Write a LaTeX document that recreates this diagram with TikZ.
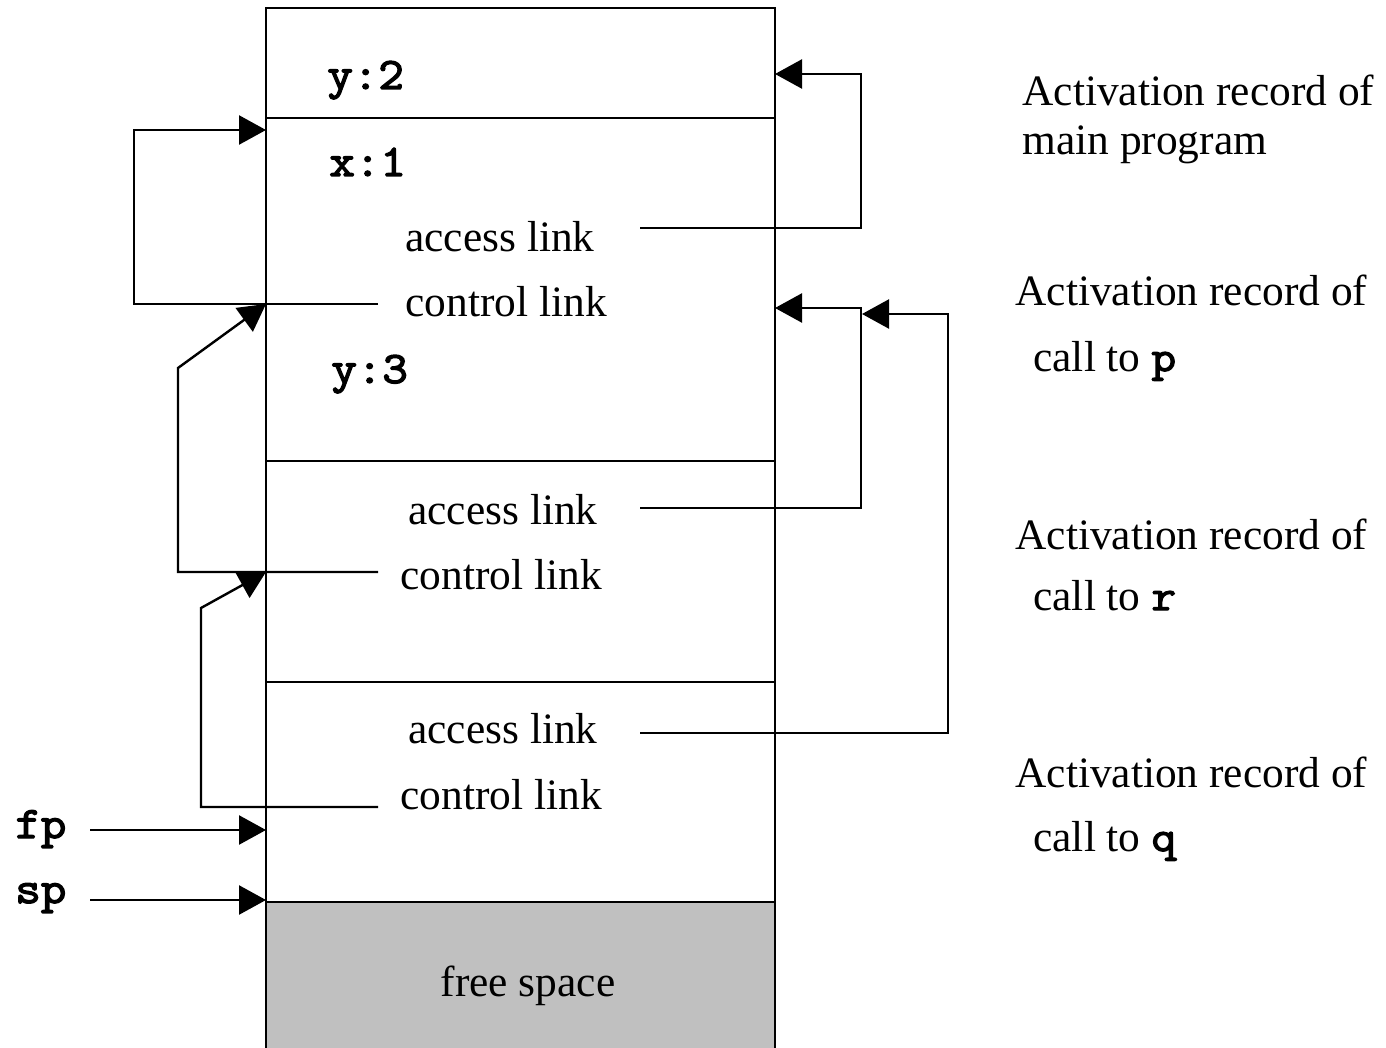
\documentclass[tikz,border=0pt]{standalone}
\usepackage{fontspec}
\setmainfont{Liberation Serif}
\newfontfamily\codefont[FakeBold=3,FakeStretch=1.1]{Latin Modern Mono}
\usetikzlibrary{arrows.meta}
\definecolor{freegray}{HTML}{C0C0C0}

\begin{document}
\begin{tikzpicture}[x=0.5pt,y=-0.5pt,
  wire/.style={line width=1.2pt},
  link/.style={wire,-{Triangle[length=13.5pt,width=14.5pt]}},
  txt/.style={font=\fontsize{21.7}{24}\selectfont, inner sep=0pt, anchor=base west},
  var/.style={font=\fontsize{22.5}{24}\selectfont\codefont, inner sep=0pt, anchor=base west},
]
\useasboundingbox (0,0) rectangle (1386,1048);
\clip (0,0) rectangle (1386,1048);

% the stack column
\fill[freegray] (266,902) rectangle (775,1060);
\draw[wire] (266,1060) -- (266,8) -- (775,8) -- (775,1060);
\foreach \yy in {118,461,682,902} \draw[wire] (266,\yy) -- (775,\yy);

% contents of the records
\node[var] (y2) at (327,89) {y:2};
\node[var] (x1) at (329,176) {x:1};
\node[var] (y3) at (331,383) {y:3};
\node[txt] (acc1) at (405,251) {access link};
\node[txt] (ctl1) at (405,316) {control link};
\node[txt] (acc2) at (408,524) {access link};
\node[txt] (ctl2) at (400,589) {control link};
\node[txt] (acc3) at (408,743) {access link};
\node[txt] (ctl3) at (400,809) {control link};
\node[txt,anchor=base] (free) at (528,996) {free space};

% stack pointers
\node[var] (fp) at (15,838) {fp};
\node[var] (sp) at (15,903) {sp};

% record captions
\node[txt] (capm1) at (1022,106) {Activation record of};
\node[txt] (capm2) at (1022,155) {main program};
\node[txt] (capp1) at (1015,306) {Activation record of};
\node[txt] (capp2) at (1033,371) {call to {\codefont p}};
\node[txt] (capr1) at (1015,549) {Activation record of};
\node[txt] (capr2) at (1033,610) {call to {\codefont r}};
\node[txt] (capq1) at (1015,787) {Activation record of};
\node[txt] (capq2) at (1033,851) {call to {\codefont q}};

% link ends and bends
\coordinate (a1s) at (640,228);  \coordinate (a1b) at (861,228);
\coordinate (a1c) at (861,74);   \coordinate (a1t) at (775,74);
\coordinate (c1s) at (378,304);  \coordinate (c1b) at (134,304);
\coordinate (c1c) at (134,130);  \coordinate (c1t) at (266,130);
\coordinate (a2s) at (640,508);  \coordinate (a2b) at (861,508);
\coordinate (a2c) at (861,308);  \coordinate (a2t) at (775,308);
\coordinate (c2s) at (378,572);  \coordinate (c2b) at (178,572);
\coordinate (c2c) at (178,368);  \coordinate (c2t) at (266,304);
\coordinate (a3s) at (640,733);  \coordinate (a3b) at (948,733);
\coordinate (a3c) at (948,314);  \coordinate (a3t) at (862,314);
\coordinate (c3s) at (378,807);  \coordinate (c3b) at (201,807);
\coordinate (c3c) at (201,608);  \coordinate (c3t) at (266,572);
\coordinate (fps) at (90,830);   \coordinate (fpt) at (266,830);
\coordinate (sps) at (90,900);   \coordinate (spt) at (266,900);

% access links
\draw[link] (a1s) -- (a1b) -- (a1c) -- (a1t);
\draw[link] (a2s) -- (a2b) -- (a2c) -- (a2t);
\draw[link] (a3s) -- (a3b) -- (a3c) -- (a3t);
% control links
\draw[link] (c1s) -- (c1b) -- (c1c) -- (c1t);
\draw[link] (c2s) -- (c2b) -- (c2c) -- (c2t);
\draw[link] (c3s) -- (c3b) -- (c3c) -- (c3t);
% frame and stack pointers
\draw[link] (fps) -- (fpt);
\draw[link] (sps) -- (spt);
\end{tikzpicture}
\end{document}
